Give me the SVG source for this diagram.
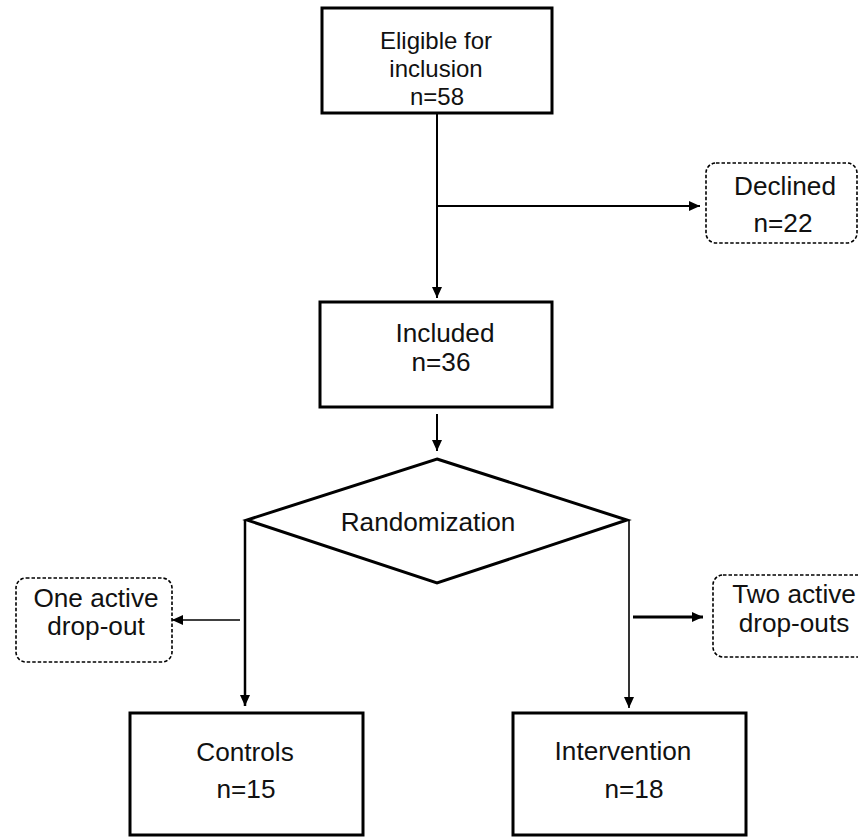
<svg xmlns="http://www.w3.org/2000/svg" width="858" height="837" viewBox="0 0 858 837">
<style>
text{font-family:"Liberation Sans",Arial,sans-serif;font-size:26.2px;fill:#111;text-anchor:middle}
.tight{font-size:24px}
.box{fill:#fff;stroke:#000;stroke-width:3}
.dash{fill:#fff;stroke:#000;stroke-width:1.6;stroke-dasharray:3.5 2}
.ln{fill:none;stroke:#000}
</style>
<defs>
<marker id="ah" markerUnits="userSpaceOnUse" markerWidth="12" markerHeight="10" refX="11" refY="5" orient="auto">
<path d="M0,0 L11,5 L0,10 Z" fill="#000"/>
</marker>
</defs>
<rect width="858" height="837" fill="#fff"/>
<g id="connectors">
<line class="ln" x1="437" y1="113" x2="437" y2="298" stroke-width="2" marker-end="url(#ah)"/>
<line class="ln" x1="437" y1="206" x2="700" y2="206" stroke-width="2" marker-end="url(#ah)"/>
<line class="ln" x1="437" y1="414" x2="437" y2="451" stroke-width="2" marker-end="url(#ah)"/>
<line class="ln" x1="245" y1="520" x2="245" y2="706" stroke-width="2.5" marker-end="url(#ah)"/>
<line class="ln" x1="629" y1="520" x2="629" y2="708" stroke-width="1.6" marker-end="url(#ah)"/>
<line class="ln" x1="240" y1="620" x2="172" y2="620" stroke-width="1.6" marker-end="url(#ah)"/>
<line class="ln" x1="633" y1="617" x2="703" y2="617" stroke-width="3" marker-end="url(#ah)"/>
</g>
<g id="eligible">
<rect class="box" x="322" y="8" width="230" height="105"/>
<text class="tight" x="436" y="49">Eligible for</text>
<text class="tight" x="436" y="77">inclusion</text>
<text class="tight" x="437" y="105">n=58</text>
</g>
<g id="declined">
<rect class="dash" x="706" y="163" width="151" height="80" rx="10"/>
<text x="785" y="195">Declined</text>
<text x="783" y="232">n=22</text>
</g>
<g id="included">
<rect class="box" x="320" y="302" width="232" height="105"/>
<text x="445" y="342">Included</text>
<text x="441" y="371">n=36</text>
</g>
<g id="randomization">
<polygon class="box" points="437,459 627,520 437,583 247,520"/>
<text x="428" y="531">Randomization</text>
</g>
<g id="one-dropout">
<rect class="dash" x="16" y="578" width="156" height="84" rx="10"/>
<text x="96" y="607">One active</text>
<text x="96" y="635">drop-out</text>
</g>
<g id="two-dropouts">
<rect class="dash" x="713" y="575" width="160" height="82" rx="10"/>
<text x="794" y="603">Two active</text>
<text x="794" y="632">drop-outs</text>
</g>
<g id="controls">
<rect class="box" x="130" y="713" width="233" height="122"/>
<text x="245" y="761">Controls</text>
<text x="246" y="798">n=15</text>
</g>
<g id="intervention">
<rect class="box" x="513" y="713" width="233" height="122"/>
<text x="623" y="760">Intervention</text>
<text x="634" y="798">n=18</text>
</g>
</svg>
